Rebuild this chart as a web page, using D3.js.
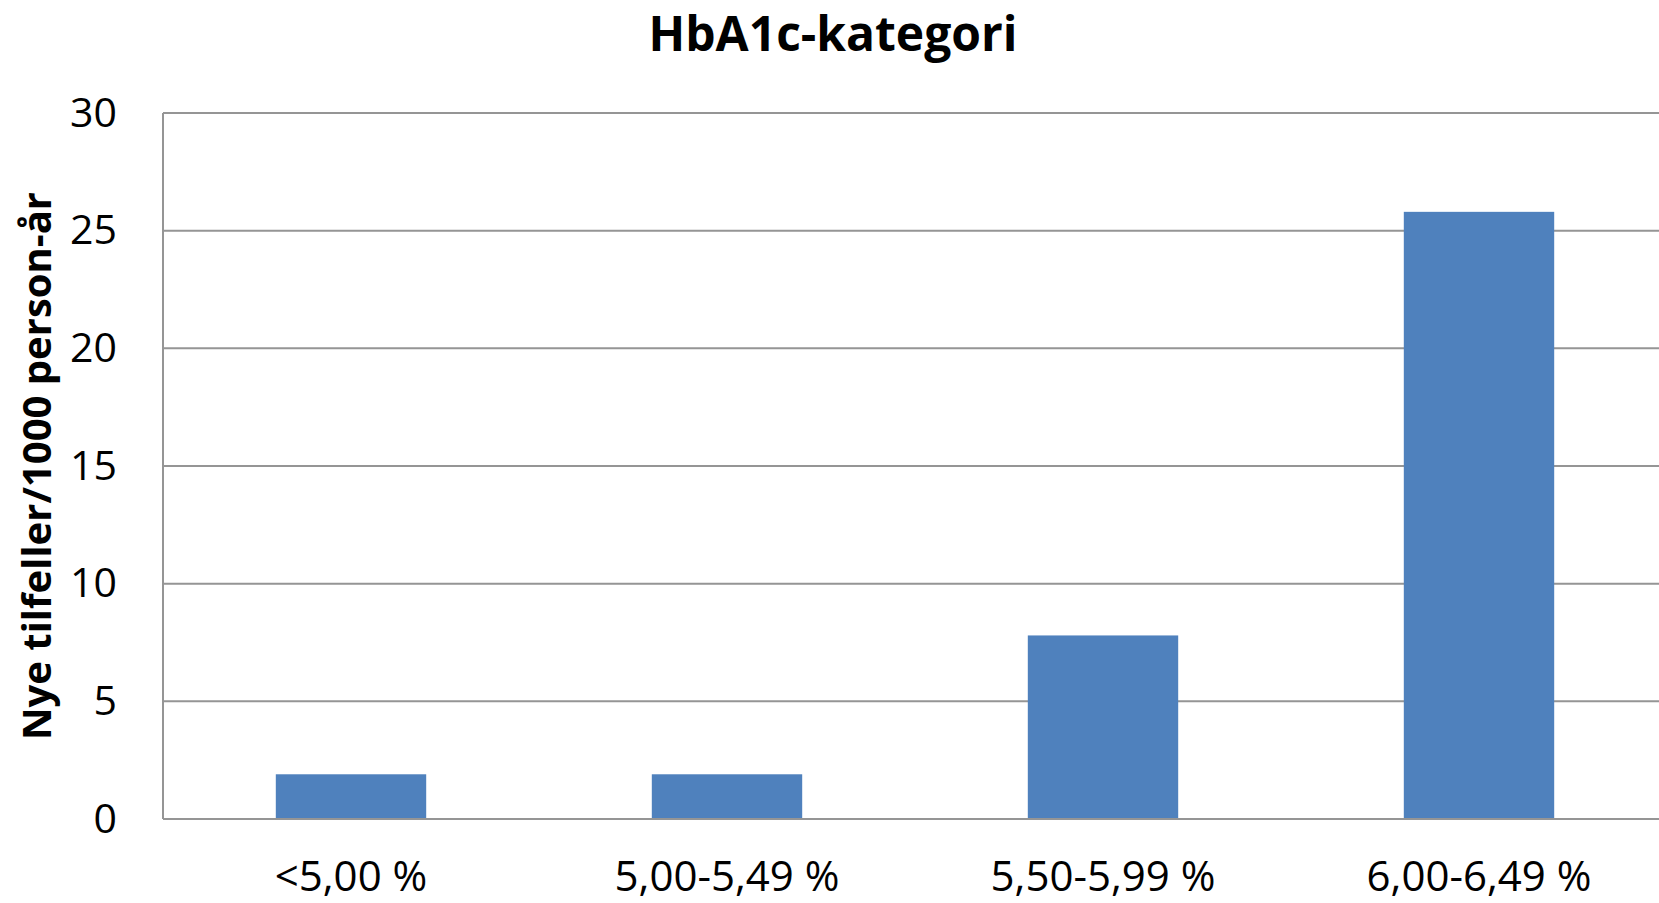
<!DOCTYPE html>
<html>
<head>
<meta charset="utf-8">
<script src="https://cdn.jsdelivr.net/npm/d3@7"></script>
<style>
html,body{margin:0;padding:0;background:#fff;}
svg{display:block;}
</style>
</head>
<body>
<svg id="chart" width="1659" height="903"></svg>
<script>
const categories = ["<5,00 %", "5,00-5,49 %", "5,50-5,99 %", "6,00-6,49 %"];
const values = [1.9, 1.9, 7.8, 25.8];
const yTicks = [0, 5, 10, 15, 20, 25, 30];
const title = "HbA1c-kategori";
const yTitle = "Nye tilfeller/1000 person-år";

const W = 1659, H = 903;
const m = {left: 163, right: -8, top: 113, bottom: 84};
const svg = d3.select("#chart");
const font = "'Open Sans', sans-serif";

const x = d3.scaleBand().domain(categories).range([m.left, W - m.right]).padding(0);
const y = d3.scaleLinear().domain([0, 30]).range([H - m.bottom, m.top]);

// gridlines
svg.append("g").selectAll("line").data(yTicks.filter(d => d > 0)).join("line")
  .attr("x1", m.left).attr("x2", W - m.right)
  .attr("y1", d => y(d)).attr("y2", d => y(d))
  .attr("stroke", "#959595").attr("stroke-width", 2);

// bars
const barFrac = 0.4;
svg.append("g").selectAll("rect").data(values).join("rect")
  .attr("x", (d, i) => x(categories[i]) + x.bandwidth() * (1 - barFrac) / 2)
  .attr("width", x.bandwidth() * barFrac)
  .attr("y", d => y(d))
  .attr("height", d => y(0) - y(d))
  .attr("fill", "#4F81BD");

// axes lines
svg.append("line").attr("x1", m.left).attr("x2", m.left)
  .attr("y1", y(30)).attr("y2", y(0)).attr("stroke", "#959595").attr("stroke-width", 2);
svg.append("line").attr("x1", m.left).attr("x2", W - m.right)
  .attr("y1", y(0)).attr("y2", y(0)).attr("stroke", "#959595").attr("stroke-width", 2);

// y tick labels
const yAxis = d3.axisLeft(y).tickValues(yTicks).tickSize(0).tickPadding(46);
const gy = svg.append("g").attr("transform", `translate(${m.left},0)`).call(yAxis);
gy.select(".domain").remove();
gy.selectAll("text").attr("font-family", font).attr("font-size", 41).attr("fill", "#000");

// x tick labels
const xAxis = d3.axisBottom(x).tickSize(0).tickPadding(42);
const gx = svg.append("g").attr("transform", `translate(0,${y(0)})`).call(xAxis);
gx.select(".domain").remove();
gx.selectAll("text").attr("font-family", font).attr("font-size", 42).attr("fill", "#000");

// title
svg.append("text").attr("x", 833).attr("y", 51).attr("text-anchor", "middle")
  .attr("font-family", font).attr("font-weight", "bold").attr("font-size", 48)
  .attr("fill", "#000").text(title);

// y title
svg.append("text").attr("transform", `translate(51,${(y(0) + y(30)) / 2}) rotate(-90)`)
  .attr("text-anchor", "middle")
  .attr("font-family", font).attr("font-weight", "bold").attr("font-size", 40)
  .attr("fill", "#000").text(yTitle);
</script>
</body>
</html>
